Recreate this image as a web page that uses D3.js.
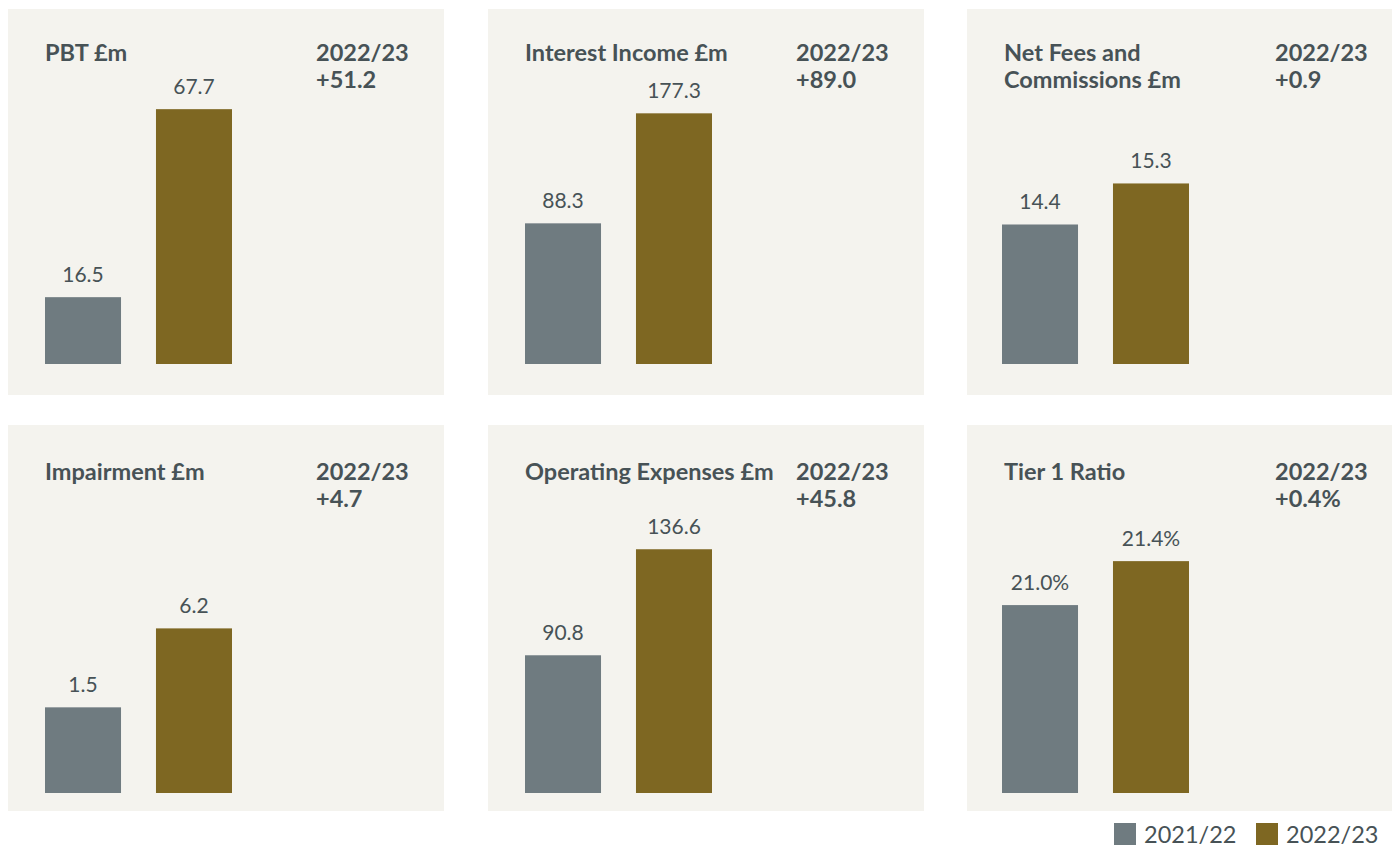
<!DOCTYPE html>
<html>
<head>
<meta charset="utf-8">
<script src="https://cdn.jsdelivr.net/npm/d3@7"></script>
<style>
  html, body { margin: 0; padding: 0; background: #ffffff; }
  svg { display: block; font-family: Lato, "Open Sans", sans-serif; }
</style>
</head>
<body>
<div id="chart"></div>
<script>
// Data
const titles = [
  ["PBT £m"],
  ["Interest Income £m"],
  ["Net Fees and", "Commissions £m"],
  ["Impairment £m"],
  ["Operating Expenses £m"],
  ["Tier 1 Ratio"]
];
const years = ["2021/22", "2022/23"];
const prevValues = [16.5, 88.3, 14.4, 1.5, 90.8, 21.0];
const currValues = [67.7, 177.3, 15.3, 6.2, 136.6, 21.4];
const changeLabels = ["+51.2", "+89.0", "+0.9", "+4.7", "+45.8", "+0.4%"];
const valueSuffix = ["", "", "", "", "", "%"];
// each panel has its own (non-zero based) value scale
const scaleMin = [-1.7, -25.5, 11.34, -3.6, 31.3, 19.29];
const scaleMax = [80, 217.2, 17.92, 14.26, 160.9, 22.02];

// Layout
const W = 1392, H = 847;
const colLeft = [8, 488, 967];
const colRight = [444, 924, 1392];
const barOffset = [37, 37, 35];
const rowTop = [9, 425];
const panelH = 386;
const titleY = [61, 480];
const baseY = [364, 793];
const barTopSpace = 300;
const colors = ["#6f7b80", "#7e6722"];
const textColor = "#475256";

const svg = d3.select("#chart")
  .append("svg")
  .attr("width", W)
  .attr("height", H);

titles.forEach((title, i) => {
  const col = i % 3;
  const row = Math.floor(i / 3);
  const x0 = colLeft[col];

  const g = svg.append("g").attr("class", "panel");

  g.append("rect")
    .attr("x", x0)
    .attr("y", rowTop[row])
    .attr("width", colRight[col] - x0)
    .attr("height", panelH)
    .attr("fill", "#f4f3ee");

  // title
  const t = g.append("text")
    .attr("x", x0 + 37)
    .attr("y", titleY[row])
    .attr("fill", textColor)
    .style("font-size", "23.5px")
    .style("font-weight", "700");
  title.forEach((line, j) => {
    t.append("tspan").attr("x", x0 + 37).attr("dy", j === 0 ? 0 : 27).text(line);
  });

  // change annotation
  const c = g.append("text")
    .attr("x", x0 + 308)
    .attr("y", titleY[row])
    .attr("fill", textColor)
    .style("font-size", "23.5px")
    .style("font-weight", "700");
  c.append("tspan").attr("x", x0 + 308).attr("dy", 0).text(years[1]);
  c.append("tspan").attr("x", x0 + 308).attr("dy", 27).text(changeLabels[i]);

  // scales
  const xScale = d3.scaleBand()
    .domain(years)
    .range([x0 + barOffset[col], x0 + barOffset[col] + 187])
    .paddingInner(0.315)
    .paddingOuter(0);

  const yScale = d3.scaleLinear()
    .domain([scaleMin[i], scaleMax[i]])
    .range([baseY[row], baseY[row] - barTopSpace]);

  const vals = [
    { year: years[0], value: prevValues[i] },
    { year: years[1], value: currValues[i] }
  ];

  g.selectAll(".bar")
    .data(vals)
    .enter()
    .append("rect")
    .attr("class", "bar")
    .attr("x", (d) => xScale(d.year))
    .attr("width", xScale.bandwidth())
    .attr("y", (d) => yScale(d.value))
    .attr("height", (d) => baseY[row] - yScale(d.value))
    .attr("fill", (d, k) => colors[k]);

  g.selectAll(".val")
    .data(vals)
    .enter()
    .append("text")
    .attr("class", "val")
    .attr("x", (d) => xScale(d.year) + xScale.bandwidth() / 2)
    .attr("y", (d) => yScale(d.value) - 15)
    .attr("text-anchor", "middle")
    .attr("fill", textColor)
    .style("font-size", "21px")
    .text((d) => d.value.toFixed(1) + valueSuffix[i]);
});

// legend
const legendX = [1114, 1256];
const legend = svg.append("g").attr("class", "legend");
years.forEach((y, k) => {
  legend.append("rect")
    .attr("x", legendX[k])
    .attr("y", 823)
    .attr("width", 22)
    .attr("height", 22)
    .attr("fill", colors[k]);
  legend.append("text")
    .attr("x", legendX[k] + 30)
    .attr("y", 843)
    .attr("fill", textColor)
    .style("font-size", "23.5px")
    .text(y);
});
</script>
</body>
</html>
